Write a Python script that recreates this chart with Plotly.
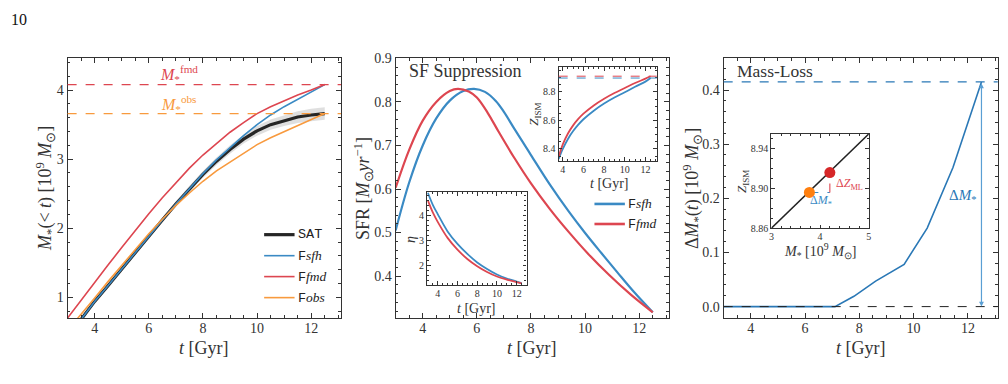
import plotly.graph_objects as go

W, H = 1008, 384
FONT = "Liberation Serif"
MONO = "Liberation Mono"
TXT = "#333333"
BLUE = "#3A8AC4"
BLUE_D = "#2A78B6"
RED = "#DD4650"
ORANGE = "#F89A3E"

def px(x):
    return x / W

def py(y):
    return 1 - y / H

# ---------------- data: panel 1 (cumulative stellar mass) ----------------
t_cum = [3.0, 3.5, 4.0, 4.5, 5.0, 5.5, 6.0, 6.5, 7.0, 7.5, 8.0, 8.5, 9.0, 9.5,
         10.0, 10.5, 11.0, 11.5, 12.0, 12.5]
sat = [0.42, 0.68, 0.94, 1.17, 1.41, 1.65, 1.89, 2.12, 2.35, 2.57, 2.78, 2.97,
       3.14, 3.29, 3.41, 3.50, 3.56, 3.61, 3.64, 3.66]
sat_err = [0.01, 0.01, 0.015, 0.02, 0.02, 0.025, 0.03, 0.035, 0.04, 0.045, 0.05,
           0.055, 0.06, 0.065, 0.07, 0.075, 0.08, 0.085, 0.09, 0.09]
f_sfh = [0.42, 0.68, 0.94, 1.17, 1.41, 1.65, 1.89, 2.12, 2.35, 2.57, 2.79, 2.99,
         3.17, 3.34, 3.50, 3.64, 3.76, 3.87, 3.97, 4.08]
f_fmd = [0.70, 0.96, 1.22, 1.47, 1.72, 1.97, 2.21, 2.44, 2.66, 2.87, 3.06, 3.23,
         3.39, 3.53, 3.66, 3.76, 3.85, 3.93, 4.00, 4.08]
f_obs = [0.52, 0.75, 0.99, 1.23, 1.46, 1.69, 1.92, 2.13, 2.33, 2.51, 2.68, 2.83,
         2.96, 3.09, 3.21, 3.31, 3.40, 3.48, 3.58, 3.66]
M_FMD = f_fmd[-1]
M_OBS = f_obs[-1]

# ---------------- data: panel 2 (SFR) ----------------
t_sfr_sfh = [3.0, 3.5, 4.0, 4.5, 5.0, 5.5, 5.9, 6.3, 6.7, 7.0, 7.4, 8.0, 8.7,
             9.4, 10.0, 10.6, 11.2, 11.8, 12.5]
sfr_sfh = [0.505, 0.615, 0.700, 0.762, 0.803, 0.825, 0.830, 0.823, 0.802, 0.777,
           0.737, 0.678, 0.610, 0.548, 0.499, 0.453, 0.408, 0.364, 0.317]
t_sfr_fmd = [3.0, 3.5, 4.0, 4.5, 5.0, 5.3, 5.7, 6.0, 6.4, 6.8, 7.4, 8.0, 8.7,
             9.4, 10.1, 10.9, 11.7, 12.5]
sfr_fmd = [0.603, 0.690, 0.757, 0.800, 0.825, 0.830, 0.824, 0.810, 0.775, 0.732,
           0.670, 0.613, 0.554, 0.501, 0.452, 0.402, 0.357, 0.317]

# inset: Z_ISM vs t
t_z = [3.6, 4.0, 4.5, 5.0, 5.5, 6.0, 7.0, 8.0, 9.0, 10.0, 11.0, 12.0, 12.5]
z_fmd = [8.345, 8.432, 8.508, 8.565, 8.610, 8.647, 8.705, 8.752, 8.792, 8.827,
         8.862, 8.893, 8.910]
z_sfh = [8.330, 8.400, 8.470, 8.525, 8.570, 8.608, 8.668, 8.718, 8.760, 8.797,
         8.836, 8.872, 8.897]

# inset: eta vs t
t_eta = [3.0, 3.5, 4.0, 5.0, 6.0, 7.0, 8.0, 9.0, 10.0, 11.0, 12.0, 12.5]
eta_sfh = [4.90, 4.42, 4.05, 3.36, 2.86, 2.46, 2.12, 1.86, 1.64, 1.48, 1.36, 1.30]
eta_fmd = [4.60, 4.12, 3.74, 3.10, 2.63, 2.26, 1.97, 1.74, 1.56, 1.44, 1.34, 1.29]

# ---------------- data: panel 3 (mass loss) ----------------
t_ml = [3.0, 7.1, 7.8, 8.6, 9.65, 10.5, 11.45, 12.5]
dm_ml = [0.0, 0.0, 0.019, 0.047, 0.078, 0.145, 0.257, 0.415]
DM_MAX = dm_ml[-1]

# inset: Z_ISM vs M*
mz_mass = [3.0, 5.0]
mz_z = [8.86, 8.955]
pt_obs = (3.78, 8.896)
pt_fmd = (4.20, 8.916)

# legend labels
leg1_mono = ["SAT", "F", "F", "F"]
leg1_ital = ["", "sfh", "fmd", "obs"]
leg2_mono = ["F", "F"]
leg2_ital = ["sfh", "fmd"]

fig = go.Figure()

# panel 1
upper = [s + e for s, e in zip(sat, sat_err)]
lower = [s - e for s, e in zip(sat, sat_err)]
fig.add_trace(go.Scatter(x=t_cum, y=upper, mode="lines", line=dict(width=0),
                         showlegend=False, hoverinfo="skip", xaxis="x", yaxis="y"))
fig.add_trace(go.Scatter(x=t_cum, y=lower, mode="lines", line=dict(width=0),
                         fill="tonexty", fillcolor="rgba(150,150,150,0.30)",
                         showlegend=False, hoverinfo="skip", xaxis="x", yaxis="y"))
fig.add_trace(go.Scatter(x=t_cum, y=sat, mode="lines", line=dict(color="#262626", width=3.2),
                         showlegend=False, xaxis="x", yaxis="y"))
fig.add_trace(go.Scatter(x=t_cum, y=f_sfh, mode="lines", line=dict(color=BLUE, width=1.6),
                         showlegend=False, xaxis="x", yaxis="y"))
fig.add_trace(go.Scatter(x=t_cum, y=f_fmd, mode="lines", line=dict(color=RED, width=1.6),
                         showlegend=False, xaxis="x", yaxis="y"))
fig.add_trace(go.Scatter(x=t_cum, y=f_obs, mode="lines", line=dict(color=ORANGE, width=1.6),
                         showlegend=False, xaxis="x", yaxis="y"))

# panel 2
fig.add_trace(go.Scatter(x=t_sfr_sfh, y=sfr_sfh, mode="lines", line=dict(color=BLUE, width=2.2, shape="spline", smoothing=1.0),
                         showlegend=False, xaxis="x2", yaxis="y2"))
fig.add_trace(go.Scatter(x=t_sfr_fmd, y=sfr_fmd, mode="lines", line=dict(color=RED, width=2.2, shape="spline", smoothing=1.0),
                         showlegend=False, xaxis="x2", yaxis="y2"))
# Z inset
fig.add_trace(go.Scatter(x=t_z, y=z_sfh, mode="lines", line=dict(color=BLUE, width=1.8, shape="spline"),
                         showlegend=False, xaxis="x4", yaxis="y4"))
fig.add_trace(go.Scatter(x=t_z, y=z_fmd, mode="lines", line=dict(color=RED, width=1.8, shape="spline"),
                         showlegend=False, xaxis="x4", yaxis="y4"))
# eta inset
fig.add_trace(go.Scatter(x=t_eta, y=eta_sfh, mode="lines", line=dict(color=BLUE, width=1.8, shape="spline"),
                         showlegend=False, xaxis="x5", yaxis="y5"))
fig.add_trace(go.Scatter(x=t_eta, y=eta_fmd, mode="lines", line=dict(color=RED, width=1.8, shape="spline"),
                         showlegend=False, xaxis="x5", yaxis="y5"))

# panel 3
fig.add_trace(go.Scatter(x=t_ml, y=dm_ml, mode="lines", line=dict(color=BLUE_D, width=1.6),
                         showlegend=False, xaxis="x3", yaxis="y3"))
# ML inset
fig.add_trace(go.Scatter(x=mz_mass, y=mz_z, mode="lines", line=dict(color="#222222", width=1.5),
                         showlegend=False, xaxis="x6", yaxis="y6"))
fig.add_trace(go.Scatter(x=[pt_obs[0], pt_fmd[0]], y=[pt_obs[1], pt_obs[1]], mode="lines",
                         line=dict(color=BLUE, width=1.1, dash="dash"),
                         showlegend=False, xaxis="x6", yaxis="y6"))
fig.add_trace(go.Scatter(x=[pt_fmd[0], pt_fmd[0]], y=[pt_obs[1], pt_fmd[1]], mode="lines",
                         line=dict(color=RED, width=1.1, dash="dash"),
                         showlegend=False, xaxis="x6", yaxis="y6"))
fig.add_trace(go.Scatter(x=[pt_obs[0]], y=[pt_obs[1]], mode="markers",
                         marker=dict(color="#FF7F0E", size=11),
                         showlegend=False, xaxis="x6", yaxis="y6"))
fig.add_trace(go.Scatter(x=[pt_fmd[0]], y=[pt_fmd[1]], mode="markers",
                         marker=dict(color="#D62728", size=11),
                         showlegend=False, xaxis="x6", yaxis="y6"))


def axis(dom, rng, dtick, minor, size=14, fmt=None, tick0=0, tl=5, mtl=2.5, anchor=None, standoff=0):
    d = dict(domain=dom, range=rng, dtick=dtick, tick0=tick0, ticks="inside",
             ticklen=tl, tickwidth=1, tickcolor=TXT, showline=True, linecolor=TXT,
             linewidth=1.2, mirror="ticks", showgrid=False, zeroline=False,
             tickfont=dict(family=FONT, size=size, color=TXT),
             minor=dict(dtick=minor, tick0=tick0, ticks="inside", ticklen=mtl,
                        tickcolor=TXT, tickwidth=0.8, showgrid=False),
             ticklabelstandoff=standoff, fixedrange=True)
    if fmt:
        d["tickformat"] = fmt
    if anchor:
        d["anchor"] = anchor
    return d

ydom_main = [py(321), py(53)]
fig.update_layout(
    width=W, height=H, margin=dict(l=0, r=0, t=0, b=0),
    paper_bgcolor="white", plot_bgcolor="white", showlegend=False,
    xaxis=axis([px(65), px(340)], [3, 13.1], 2, 0.5, anchor="y", standoff=-3),
    yaxis=axis(ydom_main, [0.70, 4.46], 1, 0.2, anchor="x"),
    xaxis2=axis([px(395), px(670)], [3, 13.1], 2, 0.5, anchor="y2", standoff=-3),
    yaxis2=axis(ydom_main, [0.304, 0.9], 0.1, 0.02, fmt=".1f", anchor="x2"),
    xaxis3=axis([px(725), px(1000.7)], [3, 13.1], 2, 0.5, anchor="y3", standoff=-3),
    yaxis3=axis(ydom_main, [-0.021, 0.4585], 0.1, 0.02, fmt=".1f", anchor="x3"),
    xaxis4=axis([px(559), px(657.7)], [3.6, 13.1], 2, 0.5, size=10, tl=3.5, mtl=2, anchor="y4", standoff=-1),
    yaxis4=axis([py(159), py(62.3)], [8.315, 8.972], 0.2, 0.05, size=10, fmt=".1f", tl=3.5, mtl=2, anchor="x4"),
    xaxis5=axis([px(426.7), px(526.7)], [2.93, 13.0], 2, 0.5, size=10, tl=3.5, mtl=2, anchor="y5", standoff=-1),
    yaxis5=axis([py(287), py(191)], [1.22, 4.93], 1, 0.2, size=10, tl=3.5, mtl=2, anchor="x5"),
    xaxis6=axis([px(773), px(871)], [3, 5], 1, 0.2, size=10, tl=3.5, mtl=2, anchor="y6", standoff=-1),
    yaxis6=axis([py(228.3), py(131)], [8.86, 8.955], 0.04, 0.01, size=10, fmt=".2f", tick0=8.86, tl=3.5, mtl=2, anchor="x6"),
)

shapes = []
# reference lines
shapes.append(dict(type="line", xref="x domain", yref="y", x0=0, x1=1, y0=M_FMD, y1=M_FMD,
                   line=dict(color=RED, width=1.2, dash="dash")))
shapes.append(dict(type="line", xref="x domain", yref="y", x0=0, x1=1, y0=M_OBS, y1=M_OBS,
                   line=dict(color=ORANGE, width=1.2, dash="dash")))
shapes.append(dict(type="line", xref="x3 domain", yref="y3", x0=0, x1=1, y0=DM_MAX, y1=DM_MAX,
                   line=dict(color=BLUE_D, width=1.1, dash="dash")))
shapes.append(dict(type="line", xref="x3 domain", yref="y3", x0=0, x1=1, y0=0, y1=0,
                   line=dict(color="#222222", width=1, dash="dash")))
shapes.append(dict(type="line", xref="x4 domain", yref="y4", x0=0, x1=1, y0=z_fmd[-1], y1=z_fmd[-1],
                   line=dict(color=RED, width=1, dash="dash")))
shapes.append(dict(type="line", xref="x4 domain", yref="y4", x0=0, x1=1, y0=z_sfh[-1], y1=z_sfh[-1],
                   line=dict(color=BLUE, width=1, dash="dash")))

def leg_line(x0, x1, y, color, width):
    shapes.append(dict(type="line", xref="paper", yref="paper", x0=px(x0), x1=px(x1),
                       y0=py(y), y1=py(y), line=dict(color=color, width=width)))

ann = []

def txt(x, y, s, size=14, color=TXT, xanchor="center", angle=0, family=FONT):
    ann.append(dict(xref="paper", yref="paper", x=px(x), y=py(y), text=s, showarrow=False,
                    xanchor=xanchor, yanchor="middle", textangle=angle,
                    font=dict(family=family, size=size, color=color)))

LEG_SIZE = 13.5

def leg_entry(xline, xtext, y, color, width, mono, ital):
    leg_line(xline, xline + 30.6, y, color, width)
    s = f"<span style=\"font-family:'{MONO}'\">{mono}</span>" + (f"<i>{ital}</i>" if ital else "")
    txt(xtext, y, s, size=LEG_SIZE, color="#222222", xanchor="left")

leg1_colors = ["#262626", BLUE, RED, ORANGE]
leg1_widths = [3.2, 1.6, 1.6, 1.6]
leg1_y = [235, 256.7, 278.3, 300]
for m, i, c, w, yy in zip(leg1_mono, leg1_ital, leg1_colors, leg1_widths, leg1_y):
    leg_entry(262.7, 294.5, yy, c, w, m, i)

leg2_colors = [BLUE, RED]
leg2_y = [203.3, 224]
for m, i, c, yy in zip(leg2_mono, leg2_ital, leg2_colors, leg2_y):
    leg_entry(595, 627, yy, c, 2.6, m, i)

# page number
txt(6, 13, "10", size=16, color="#111111", xanchor="left")

# main axis titles
for xc in [202.5, 532.5, 862.8]:
    txt(xc, 352, "<i>t</i> [Gyr]", size=18)
txt(42, 187, "<i>M</i><sub>*</sub>(&lt; <i>t</i>) [10<sup>9</sup> <i>M</i><sub>⊙</sub>]", size=18, angle=-90)
txt(362, 187, "SFR [<i>M</i><sub>⊙</sub><i>yr</i><sup>−1</sup>]", size=18, angle=-90)
txt(693, 187, "Δ<i>M</i><sub>*</sub>(<i>t</i>) [10<sup>9</sup> <i>M</i><sub>⊙</sub>]", size=18, angle=-90)

# panel labels
txt(406, 66, "SF Suppression", size=18, xanchor="left")
txt(736.5, 66, "Mass-Loss", size=17.5, xanchor="left")
txt(176.7, 69, "<i>M</i><sub>*</sub><sup>fmd</sup>", size=16, color=RED)
txt(176.7, 100, "<i>M</i><sub>*</sub><sup>obs</sup>", size=16, color=ORANGE)
txt(965, 195, "Δ<i>M</i><sub>*</sub>", size=15, color=BLUE_D)

# inset titles
txt(534.5, 111, "<i>Z</i><sub>ISM</sub>", size=13, angle=-90)
txt(610, 182, "<i>t</i> [Gyr]", size=14)
txt(410, 240, "<i>η</i>", size=14, angle=-90)
txt(476.7, 311.5, "<i>t</i> [Gyr]", size=14)
txt(744, 180, "<i>Z</i><sub>ISM</sub>", size=13, angle=-90)
txt(822, 252, "<i>M</i><sub>*</sub> [10<sup>9</sup> <i>M</i><sub>⊙</sub>]", size=14)
txt(836, 183, "Δ<i>Z</i><sub>ML</sub>", size=12, color=RED, xanchor="left")
txt(823, 200, "Δ<i>M</i><sub>*</sub>", size=12, color=BLUE, xanchor="center")

# double-headed arrow in panel 3
ann.append(dict(xref="x3", yref="y3", axref="x3", ayref="y3", x=t_ml[-1], y=0,
                ax=t_ml[-1], ay=DM_MAX, text="", showarrow=True, arrowhead=2,
                arrowside="end+start", arrowsize=0.8, arrowwidth=1.2,
                arrowcolor="#5A9FD4", standoff=0, startstandoff=0))

fig.update_layout(shapes=shapes, annotations=ann)
fig.write_html("out.html")
